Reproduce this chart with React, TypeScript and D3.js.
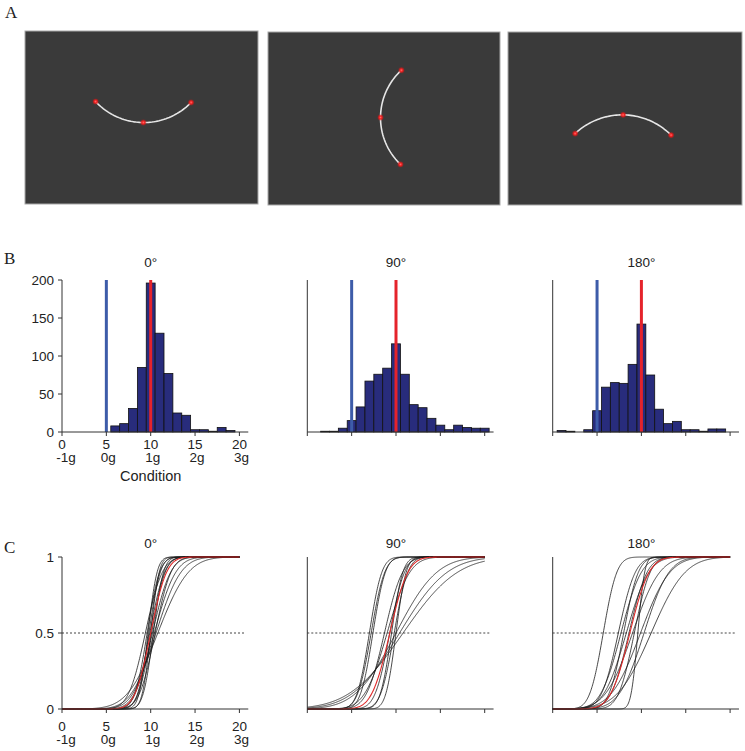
import React from 'react';
import * as d3 from 'd3';

// ---- data ----
const conditions = ['0°', '90°', '180°'];

// panel A: stimulus arcs, three dots per screen (fraction of screen width / height)
const arcPts0: [number, number][] = [[0.303, 0.408], [0.508, 0.529], [0.713, 0.413]];
const arcPts90: [number, number][] = [[0.575, 0.221], [0.485, 0.494], [0.571, 0.765]];
const arcPts180: [number, number][] = [[0.287, 0.587], [0.492, 0.479], [0.697, 0.596]];

// panel B: histograms (bin centres, counts)
const binCenters = [1, 2, 3, 4, 5, 6, 7, 8, 9, 10, 11, 12, 13, 14, 15, 16, 17, 18, 19, 20];
const counts0 = [0, 0, 0, 0, 0, 8, 11, 31, 85, 196, 130, 77, 25, 22, 3, 3, 1, 6, 2, 0];
const counts90 = [0, 1, 1, 5, 15, 33, 67, 76, 84, 116, 76, 36, 32, 18, 9, 3, 9, 6, 5, 5];
const counts180 = [2, 1, 0, 3, 28, 59, 65, 64, 89, 142, 75, 30, 11, 14, 3, 3, 1, 4, 4, 0];

const zeroGRef = 5; // blue line
const oneGRef = 10; // red line

// panel C: fitted psychometric functions (PSE, SD) per subject
const pse0 = [9.4, 9.6, 9.7, 9.8, 9.9, 10.0, 10.1, 10.2, 10.3, 10.4, 10.5, 10.6, 10.8];
const sd0 = [1.5, 1.1, 0.8, 1.0, 1.3, 0.75, 1.2, 1.6, 0.9, 1.9, 1.4, 2.2, 2.7];
const pse90 = [7.0, 7.2, 7.4, 8.7, 9.0, 9.3, 9.5, 9.8, 10.0, 10.0, 10.4, 10.8];
const sd90 = [1.1, 1.2, 1.1, 1.6, 2.0, 1.3, 1.0, 1.2, 0.9, 3.6, 4.2, 4.8];
const pse180 = [5.7, 7.4, 7.7, 8.0, 8.3, 8.6, 9.0, 9.2, 9.6, 9.9, 10.3, 11.1];
const sd180 = [1.2, 1.5, 1.8, 1.3, 2.0, 1.6, 2.4, 1.4, 0.6, 2.6, 2.2, 3.0];
const meanPse = [10.0, 9.3, 8.7];
const meanSd = [1.4, 1.6, 1.7];

const xTicks = [0, 5, 10, 15, 20];
const xTickG = ['-1g', '0g', '1g', '2g', '3g'];
const yTicksB = [0, 50, 100, 150, 200];
const yTicksC = [0, 0.5, 1];
const yTickCLabels = ['0', '0.5', '1'];

// ---- layout ----
const W = 745;
const H = 751;
const screens = [
  { x0: 25, x1: 258, y0: 31, y1: 204 },
  { x0: 268, x1: 500, y0: 32, y1: 205 },
  { x0: 508, x1: 742, y0: 32, y1: 205 },
];
const panelLeft = [62, 307.3, 552.7];
const unit = 8.87;
const sans = '"Liberation Sans", Arial, sans-serif';
const serif = '"Liberation Serif", "Times New Roman", serif';
const axisColor = '#333';

const hists = [counts0, counts90, counts180];
const arcs = [arcPts0, arcPts90, arcPts180];
const pses = [pse0, pse90, pse180];
const sds = [sd0, sd90, sd180];

// standard normal cdf
function erf(x: number) {
  const s = Math.sign(x);
  const a = Math.abs(x);
  const t = 1 / (1 + 0.3275911 * a);
  const y =
    1 -
    ((((1.061405429 * t - 1.453152027) * t + 1.421413741) * t - 0.284496736) * t + 0.254829592) *
      t *
      Math.exp(-a * a);
  return s * y;
}
const cdf = (x: number, mu: number, sd: number) => 0.5 * (1 + erf((x - mu) / (sd * Math.SQRT2)));

const xs = d3.range(0, 20.001, 0.05);

// circular arc through three pixel points
function circleArc(p: [number, number][]): [number, number][] {
  const [[ax, ay], [bx, by], [cx, cy]] = p;
  const d = 2 * (ax * (by - cy) + bx * (cy - ay) + cx * (ay - by));
  const ux = ((ax * ax + ay * ay) * (by - cy) + (bx * bx + by * by) * (cy - ay) + (cx * cx + cy * cy) * (ay - by)) / d;
  const uy = ((ax * ax + ay * ay) * (cx - bx) + (bx * bx + by * by) * (ax - cx) + (cx * cx + cy * cy) * (bx - ax)) / d;
  const r = Math.hypot(ax - ux, ay - uy);
  const TAU = Math.PI * 2;
  const a1 = Math.atan2(ay - uy, ax - ux);
  const a2 = Math.atan2(by - uy, bx - ux);
  const a3 = Math.atan2(cy - uy, cx - ux);
  const mod = (v: number) => ((v % TAU) + TAU) % TAU;
  const d13 = mod(a3 - a1);
  const d12 = mod(a2 - a1);
  const sweep = d12 < d13 ? d13 : d13 - TAU;
  return d3.range(0, 1.0001, 1 / 60).map((t) => [ux + r * Math.cos(a1 + sweep * t), uy + r * Math.sin(a1 + sweep * t)]);
}

const Screen: React.FC<{ i: number }> = ({ i }) => {
  const s = screens[i];
  const sx = d3.scaleLinear().domain([0, 1]).range([s.x0, s.x1]);
  const sy = d3.scaleLinear().domain([0, 1]).range([s.y0, s.y1]);
  const pts = arcs[i].map((p) => [sx(p[0]), sy(p[1])] as [number, number]);
  const line = d3.line<[number, number]>();
  return (
    <g>
      <rect x={s.x0} y={s.y0} width={s.x1 - s.x0} height={s.y1 - s.y0} fill="#3a3a3a" stroke="#a8a8a8" strokeWidth={1} />
      <path d={line(circleArc(pts)) || ''} fill="none" stroke="#e6e6e6" strokeWidth={1.6} />
      {pts.map((p, k) => (
        <circle key={k} cx={p[0]} cy={p[1]} r={3.2} fill="url(#dotGlow)" />
      ))}
    </g>
  );
};

const XAxis: React.FC<{ x: d3.ScaleLinear<number, number>; y0: number; labels: boolean; gap: number }> = ({
  x,
  y0,
  labels,
  gap,
}) => (
  <g>
    <line x1={x(0)} x2={x(21)} y1={y0} y2={y0} stroke={axisColor} strokeWidth={1} />
    {xTicks.map((t, k) => (
      <g key={t}>
        <line x1={x(t)} x2={x(t)} y1={y0} y2={y0 + 4} stroke={axisColor} strokeWidth={1} />
        {labels && (
          <>
            <text x={x(t)} y={y0 + gap} textAnchor="middle" fontSize={13.5} fontFamily={sans} fill="#222">
              {t}
            </text>
            <text
              x={x(t) + (k === 0 ? 4 : 2)}
              y={y0 + gap + 12.5}
              textAnchor="middle"
              fontSize={13.5}
              fontFamily={sans}
              fill="#222"
            >
              {xTickG[k]}
            </text>
          </>
        )}
      </g>
    ))}
  </g>
);

const Histogram: React.FC<{ i: number }> = ({ i }) => {
  const x = d3.scaleLinear().domain([0, 21]).range([panelLeft[i], panelLeft[i] + 21 * unit]);
  const y = d3.scaleLinear().domain([0, 200]).range([432, 280]);
  const counts = hists[i];
  return (
    <g>
      <text x={x(10)} y={267} textAnchor="middle" fontSize={13.5} fontFamily={sans} fill="#222">
        {conditions[i]}
      </text>
      {binCenters.map((c, k) =>
        counts[k] > 0 ? (
          <rect
            key={c}
            x={x(c - 0.5)}
            y={y(counts[k])}
            width={x(c + 0.5) - x(c - 0.5)}
            height={y(0) - y(counts[k])}
            fill="#282c7c"
            stroke="#111"
            strokeWidth={0.8}
          />
        ) : null,
      )}
      <line x1={x(zeroGRef)} x2={x(zeroGRef)} y1={y(0)} y2={y(200)} stroke="#3d5ca9" strokeWidth={3} />
      <line x1={x(oneGRef)} x2={x(oneGRef)} y1={y(0)} y2={y(200)} stroke="#e5232b" strokeWidth={3} />
      <line x1={x(0)} x2={x(0)} y1={y(0)} y2={y(200)} stroke={axisColor} strokeWidth={1} />
      {i === 0 &&
        yTicksB.map((t) => (
          <g key={t}>
            <line x1={x(0) - 4} x2={x(0)} y1={y(t)} y2={y(t)} stroke={axisColor} strokeWidth={1} />
            <text x={x(0) - 8} y={y(t) + 5} textAnchor="end" fontSize={13.5} fontFamily={sans} fill="#222">
              {t}
            </text>
          </g>
        ))}
      <XAxis x={x} y0={y(0)} labels={i === 0} gap={17} />
      {i === 0 && (
        <text x={x(10)} y={481} textAnchor="middle" fontSize={14.5} fontFamily={sans} fill="#222">
          Condition
        </text>
      )}
    </g>
  );
};

const Psychometric: React.FC<{ i: number }> = ({ i }) => {
  const x = d3.scaleLinear().domain([0, 21]).range([panelLeft[i], panelLeft[i] + 21 * unit]);
  const y = d3.scaleLinear().domain([0, 1]).range([709, 557]);
  const line = (mu: number, sd: number) =>
    d3
      .line<number>()
      .x((v) => x(v))
      .y((v) => y(cdf(v, mu, sd)))(xs) || '';
  return (
    <g>
      <text x={x(10)} y={548} textAnchor="middle" fontSize={13.5} fontFamily={sans} fill="#222">
        {conditions[i]}
      </text>
      <line x1={x(0)} x2={x(20.6)} y1={y(0.5)} y2={y(0.5)} stroke="#444" strokeWidth={1} strokeDasharray="2,2" />
      {pses[i].map((mu, k) => (
        <path key={k} d={line(mu, sds[i][k])} fill="none" stroke="#1a1a1a" strokeWidth={0.8} />
      ))}
      <path d={line(meanPse[i], meanSd[i])} fill="none" stroke="#e02a2a" strokeWidth={1.1} />
      <line x1={x(0)} x2={x(0)} y1={y(0)} y2={y(1)} stroke={axisColor} strokeWidth={1} />
      {i === 0 &&
        yTicksC.map((t, k) => (
          <g key={t}>
            <line x1={x(0) - 4} x2={x(0)} y1={y(t)} y2={y(t)} stroke={axisColor} strokeWidth={1} />
            <text x={x(0) - 8} y={y(t) + 5} textAnchor="end" fontSize={13.5} fontFamily={sans} fill="#222">
              {yTickCLabels[k]}
            </text>
          </g>
        ))}
      <XAxis x={x} y0={y(0)} labels={i === 0} gap={22} />
    </g>
  );
};

const App: React.FC = () => (
  <svg width={W} height={H} style={{ position: 'absolute', left: 0, top: 0, background: '#fff' }}>
    <defs>
      <radialGradient id="dotGlow">
        <stop offset="0%" stopColor="#ff6a6a" />
        <stop offset="45%" stopColor="#f02020" />
        <stop offset="100%" stopColor="#d01010" stopOpacity={0.2} />
      </radialGradient>
    </defs>
    <rect width={W} height={H} fill="#fff" />
    <text x={5} y={18} fontSize={17} fontFamily={serif} fill="#222">A</text>
    <text x={4} y={264} fontSize={17} fontFamily={serif} fill="#222">B</text>
    <text x={4} y={553} fontSize={17} fontFamily={serif} fill="#222">C</text>
    {[0, 1, 2].map((i) => (
      <Screen key={`s${i}`} i={i} />
    ))}
    {[0, 1, 2].map((i) => (
      <Histogram key={`h${i}`} i={i} />
    ))}
    {[0, 1, 2].map((i) => (
      <Psychometric key={`c${i}`} i={i} />
    ))}
  </svg>
);

export default App;
